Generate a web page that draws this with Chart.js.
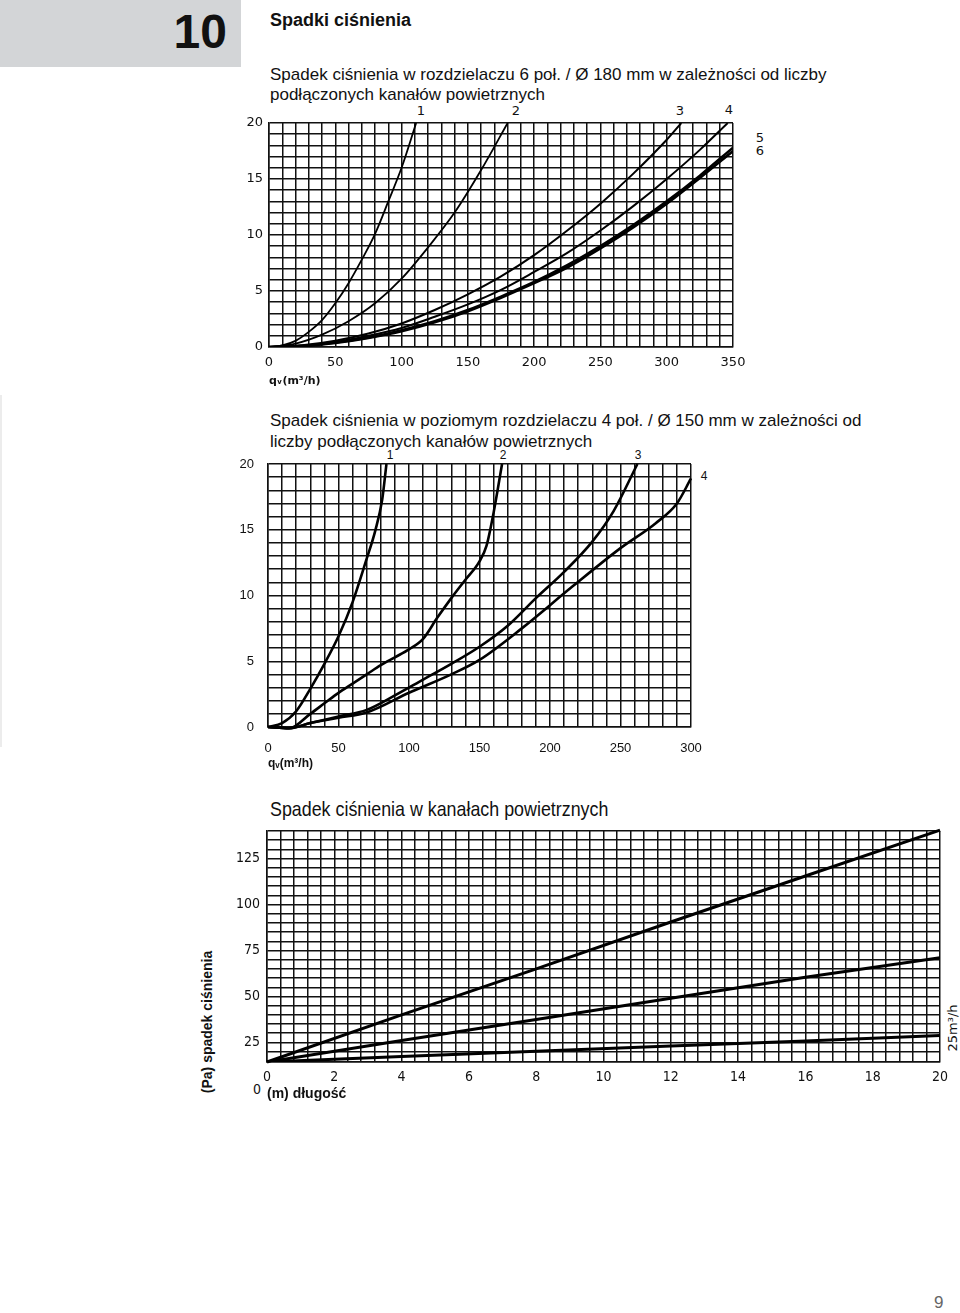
<!DOCTYPE html>
<html lang="pl">
<head>
<meta charset="utf-8">
<title>Spadki ciśnienia</title>
<script src="https://cdn.jsdelivr.net/npm/chart.js@4.4.1/dist/chart.umd.min.js"></script>
<style>
    body { margin: 0; background: #fff; }
    #page { position: relative; width: 960px; height: 1313px; overflow: hidden; font-family: 'Liberation Sans', Arial, sans-serif; color: #111; }
    .abs { position: absolute; white-space: nowrap; line-height: 1; }
    .chart { position: absolute; }
    .num { font-family: 'DejaVu Sans', sans-serif; font-size: 13px; transform: translateX(-50%); }
    .num2 { font-size: 12px; transform: translateX(-50%); }
</style>
</head>
<body>
<div id="page">
    <div class="abs" style="left:0;top:0;width:241px;height:67px;background:#d3d5d7;"></div>
    <div class="abs" style="left:0;top:0;width:227px;text-align:right;top:8px;font-size:48px;font-weight:bold;">10</div>
    <div class="abs" style="left:270px;top:11px;font-size:18px;font-weight:bold;">Spadki ciśnienia</div>
    <div class="abs" style="left:0;top:395px;width:2px;height:352px;background:#ececec;"></div>

    <!-- chart 1 -->
    <div class="abs" style="left:270px;top:66px;font-size:17px;">Spadek ciśnienia w rozdzielaczu 6 poł. / Ø 180 mm w zależności od liczby</div>
    <div class="abs" style="left:270px;top:86px;font-size:17px;">podłączonych kanałów powietrznych</div>
    <div class="abs num" style="left:421px;top:104px;">1</div>
    <div class="abs num" style="left:516px;top:104px;">2</div>
    <div class="abs num" style="left:680px;top:104px;">3</div>
    <div class="abs num" style="left:729px;top:103px;">4</div>
    <div class="abs num" style="left:760px;top:131px;">5</div>
    <div class="abs num" style="left:760px;top:144px;">6</div>
    <div class="chart" style="left:200px;top:100px;"><canvas id="chart1" width="573" height="300"></canvas></div>

    <!-- chart 2 -->
    <div class="abs" style="left:270px;top:412px;font-size:17px;">Spadek ciśnienia w poziomym rozdzielaczu 4 poł. / Ø 150 mm w zależności od</div>
    <div class="abs" style="left:270px;top:433px;font-size:17px;">liczby podłączonych kanałów powietrznych</div>
    <div class="abs num2" style="left:390px;top:449px;">1</div>
    <div class="abs num2" style="left:503px;top:449px;">2</div>
    <div class="abs num2" style="left:638px;top:449px;">3</div>
    <div class="abs num2" style="left:704px;top:470px;">4</div>
    <div class="chart" style="left:200px;top:440px;"><canvas id="chart2" width="560" height="340"></canvas></div>

    <!-- chart 3 -->
    <div class="abs" style="left:270px;top:798px;font-size:21px;transform:scaleX(0.85);transform-origin:0 0;">Spadek ciśnienia w kanałach powietrznych</div>
    <div class="abs" style="left:207px;top:1022px;font-size:14px;font-weight:bold;transform:translate(-50%,-50%) rotate(-90deg);">(Pa) spadek ciśnienia</div>
    <div class="abs" style="left:952px;top:1028px;font-size:13px;font-family:'DejaVu Sans',sans-serif;transform:translate(-50%,-50%) rotate(-90deg);">25m³/h</div>
    <div class="abs" style="left:253px;top:1082px;font-size:14px;font-family:'DejaVu Sans Condensed','DejaVu Sans',sans-serif;">0</div>
    <div class="chart" style="left:180px;top:815px;"><canvas id="chart3" width="780" height="300"></canvas></div>

    <div class="abs" style="left:934px;top:1294px;font-size:17px;color:#666;">9</div>
</div>

<script>
// chart 1: rozdzielacz 6 poł. / Ø 180 mm, qv (m3/h) vs spadek (Pa)
const c1Flow1 = [0, 10, 20, 30, 40, 50, 60, 70, 80, 90, 100, 111];
const c1Drop1 = [0, 0.15, 0.55, 1.35, 2.4, 3.9, 5.7, 7.8, 10.1, 13.0, 16.0, 20];
const c1Flow2 = [0, 20, 40, 60, 80, 100, 120, 140, 160, 180];
const c1Drop2 = [0, 0.3, 1.1, 2.3, 3.9, 6.1, 8.9, 12.0, 15.8, 20];
const c1Flow3 = [0, 25, 50, 75, 100, 125, 150, 175, 200, 225, 250, 275, 300, 311];
const c1Drop3 = [0, 0.15, 0.55, 1.2, 2.1, 3.3, 4.7, 6.3, 8.2, 10.4, 12.8, 15.5, 18.5, 20];
const c1Flow4 = [0, 25, 50, 75, 100, 125, 150, 175, 200, 225, 250, 275, 300, 325, 346];
const c1Drop4 = [0, 0.1, 0.45, 1.0, 1.7, 2.7, 3.8, 5.1, 6.7, 8.4, 10.4, 12.6, 15.0, 17.6, 20];
const c1Flow56 = [0, 25, 50, 75, 100, 125, 150, 175, 200, 225, 250, 275, 300, 325, 350];
const c1Drop5 = [0, 0.1, 0.4, 0.85, 1.5, 2.3, 3.3, 4.5, 5.8, 7.3, 9.0, 10.9, 13.0, 15.3, 17.8];
const c1Drop6 = [0, 0.08, 0.35, 0.8, 1.4, 2.2, 3.2, 4.4, 5.7, 7.1, 8.8, 10.7, 12.8, 15.1, 17.5];

// chart 2: poziomy rozdzielacz 4 poł. / Ø 150 mm
const c2Flow1 = [0, 10, 20, 30, 40, 50, 60, 70, 76, 81, 84];
const c2Drop1 = [0, 0.3, 1.2, 2.9, 4.8, 6.9, 9.5, 12.8, 14.9, 17.3, 20];
const c2Flow2 = [0, 15, 30, 40, 50, 60, 70, 80, 90, 100, 110, 120, 130, 140, 150, 155, 160, 166];
const c2Drop2 = [0, -0.1, 1.0, 1.8, 2.6, 3.3, 4.0, 4.7, 5.3, 5.9, 6.7, 8.3, 9.8, 11.2, 12.6, 13.8, 16.3, 20];
const c2Flow3 = [0, 15, 30, 50, 70, 90, 110, 130, 150, 170, 190, 210, 230, 245, 262];
const c2Drop3 = [0, -0.1, 0.3, 0.8, 1.3, 2.4, 3.6, 4.8, 6.1, 7.7, 9.8, 11.8, 14.1, 16.4, 20];
const c2Flow4 = [0, 15, 30, 50, 70, 100, 130, 150, 180, 215, 250, 275, 290, 300];
const c2Drop4 = [0, -0.1, 0.3, 0.7, 1.1, 2.6, 4.0, 5.1, 7.5, 10.6, 13.6, 15.5, 17.0, 18.9];

// chart 3: kanały powietrzne, długość (m) vs spadek (Pa)
const c3Length = [0, 4, 8, 12, 16, 20];
const c3DropA = [14.35, 40, 65, 90.5, 115.5, 140.5];
const c3DropB = [14.35, 26, 37.5, 49, 60.5, 71];
const c3DropC = [14.35, 17.3, 20.2, 23.0, 25.8, 28.8];

Chart.defaults.animation = false;
Chart.defaults.color = '#111';

function pts(xs, ys) {
    return xs.map((x, i) => ({ x: x, y: ys[i] }));
}

function curve(xs, ys, width, extra) {
    return Object.assign({
        data: pts(xs, ys),
        borderColor: '#000',
        borderWidth: width,
        pointRadius: 0,
        fill: false,
        cubicInterpolationMode: 'monotone'
    }, extra || {});
}

const gridLines = { color: '#111', lineWidth: 1.5, drawTicks: false };
const frame = { color: '#111', width: 1.5 };

function baseOptions(o) {
    return {
        responsive: false,
        devicePixelRatio: 1,
        layout: { padding: o.padding },
        plugins: { legend: { display: false }, tooltip: { enabled: false } },
        scales: {
            x: {
                type: 'linear',
                min: o.xMin, max: o.xMax,
                grid: gridLines, border: frame,
                afterFit: (s) => { s.height = o.xHeight; },
                ticks: {
                    stepSize: o.xStep, autoSkip: false, maxRotation: 0,
                    padding: o.xPad, font: o.font,
                    callback: o.xLabel
                },
                title: {
                    display: true, text: o.xTitle, align: 'start',
                    font: o.titleFont, padding: { top: 0, bottom: o.titlePad }
                }
            },
            y: {
                min: o.yMin, max: o.yMax,
                grid: gridLines, border: frame,
                afterFit: (s) => { s.width = o.yWidth; },
                ticks: {
                    stepSize: o.yStep, autoSkip: false,
                    padding: o.yPad, font: o.font,
                    callback: o.yLabel
                }
            }
        }
    };
}

new Chart(document.getElementById('chart1'), {
    type: 'line',
    data: {
        datasets: [
            curve(c1Flow1, c1Drop1, 1.8),
            curve(c1Flow2, c1Drop2, 1.8),
            curve(c1Flow3, c1Drop3, 2),
            curve(c1Flow4, c1Drop4, 2),
            curve(c1Flow56, c1Drop5, 2.6),
            curve(c1Flow56, c1Drop6, 2.6)
        ]
    },
    options: baseOptions({
        padding: { top: 23, right: 40, left: 0, bottom: 0 },
        xMin: 0, xMax: 350, xStep: 10, xHeight: 53, xPad: 8,
        yMin: 0, yMax: 20, yStep: 1, yWidth: 69, yPad: 6,
        font: { family: "'DejaVu Sans', sans-serif", size: 13 },
        titleFont: { family: "'DejaVu Sans', sans-serif", size: 11, weight: 'bold' },
        titlePad: 12,
        xTitle: 'qᵥ(m³/h)',
        xLabel: (v) => (v % 50 === 0 ? v : ''),
        yLabel: (v) => (v % 5 === 0 ? v : '')
    })
});

new Chart(document.getElementById('chart2'), {
    type: 'line',
    data: {
        datasets: [
            curve(c2Flow1, c2Drop1, 2.6),
            curve(c2Flow2, c2Drop2, 2.6, { clip: 4 }),
            curve(c2Flow3, c2Drop3, 2.6, { clip: 4 }),
            curve(c2Flow4, c2Drop4, 2.6, { clip: 4 })
        ]
    },
    options: baseOptions({
        padding: { top: 24, right: 69, left: 0, bottom: 0 },
        xMin: 0, xMax: 300, xStep: 10, xHeight: 53, xPad: 14,
        yMin: 0, yMax: 20, yStep: 1, yWidth: 68, yPad: 14,
        font: { family: "'Liberation Sans', Arial, sans-serif", size: 13 },
        titleFont: { family: "'Liberation Sans', Arial, sans-serif", size: 12, weight: 'bold' },
        titlePad: 9,
        xTitle: 'qᵥ(m³/h)',
        xLabel: (v) => (v % 50 === 0 ? v : ''),
        yLabel: (v) => (v % 5 === 0 ? v : '')
    })
});

new Chart(document.getElementById('chart3'), {
    type: 'line',
    data: {
        datasets: [
            curve(c3Length, c3DropA, 3, { cubicInterpolationMode: 'default', tension: 0, clip: 4 }),
            curve(c3Length, c3DropB, 3, { cubicInterpolationMode: 'default', tension: 0 }),
            curve(c3Length, c3DropC, 3, { cubicInterpolationMode: 'default', tension: 0 })
        ]
    },
    options: baseOptions({
        padding: { top: 16, right: 20, left: 0, bottom: 0 },
        xMin: 0, xMax: 20, xStep: 0.4, xHeight: 53, xPad: 7,
        yMin: 14.35, yMax: 140, yStep: 5, yWidth: 87, yPad: 7,
        font: { family: "'DejaVu Sans Condensed', 'DejaVu Sans', sans-serif", size: 14 },
        titleFont: { family: "'Liberation Sans', Arial, sans-serif", size: 14, weight: 'bold' },
        titlePad: 12,
        xTitle: '(m) długość',
        xLabel: (v) => {
            const r = Math.round(v);
            return Math.abs(v - r) < 1e-6 && r % 2 === 0 ? r : '';
        },
        yLabel: (v) => (v % 25 === 0 ? v : '')
    })
});
</script>
</body>
</html>
